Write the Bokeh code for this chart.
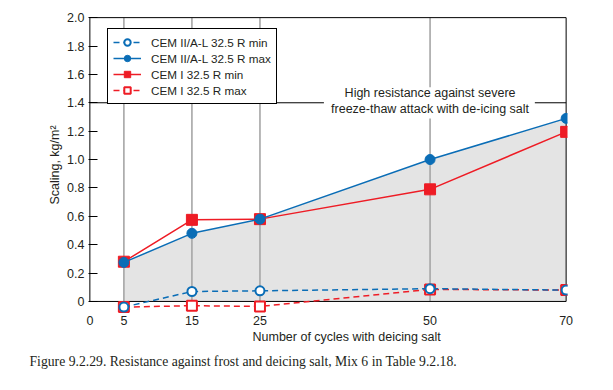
from bokeh.plotting import figure
from bokeh.models import Range1d, FixedTicker, Legend, LegendItem, Label, BoxAnnotation, Title
from bokeh.embed import file_html
from bokeh.resources import INLINE

# ---- data ----
cycles = [5, 15, 25, 50, 70]
cem2_min = [-0.04, 0.07, 0.075, 0.09, 0.08]     # CEM II/A-L 32.5 R min
cem2_max = [0.275, 0.48, 0.58, 1.0, 1.29]       # CEM II/A-L 32.5 R max
cem1_min = [0.28, 0.575, 0.58, 0.79, 1.195]     # CEM I 32.5 R min
cem1_max = [-0.04, -0.03, -0.035, 0.085, 0.08]  # CEM I 32.5 R max
x_ticks = [0, 5, 15, 25, 50, 70]
y_ticks = [0, 0.2, 0.4, 0.6, 0.8, 1.0, 1.2, 1.4, 1.6, 1.8, 2.0]
y_tick_labels = ["0", "0.2", "0.4", "0.6", "0.8", "1.0", "1.2", "1.4", "1.6", "1.8", "2.0"]
grid_cycles = [5, 15, 25, 50]
threshold = 1.4
note_lines = ["High resistance against severe", "freeze-thaw attack with de-icing salt"]
x_title = "Number of cycles with deicing salt"
y_title = "Scaling, kg/m\u00b2"
caption = "Figure 9.2.29. Resistance against frost and deicing salt, Mix 6 in Table 9.2.18."

BLUE = "#0a6db6"
RED = "#ee1c25"
TXT = "#231f20"
FONT = "Liberation Sans"

p = figure(width=597, height=380, x_range=Range1d(-0.2, 70.2), y_range=Range1d(-0.085, 2.008),
           output_backend="svg", toolbar_location=None,
           min_border_left=88, min_border_right=30, min_border_top=16, min_border_bottom=67)
p.outline_line_color = None
p.xgrid.grid_line_color = None
p.ygrid.grid_line_color = None

# shaded region under CEM II max
p.varea(x=cycles, y1=[0] * len(cycles), y2=cem2_max, fill_color="#e4e4e4")
# grey vertical lines
p.segment(x0=grid_cycles, y0=[0] * len(grid_cycles), x1=grid_cycles, y1=[2.0] * len(grid_cycles),
          line_color="#a6a6a6", line_width=1.6)
# frame & threshold line
p.segment(x0=[0, 0, 0, 70, 0], y0=[0, 2.0, 0, 0, threshold], x1=[70, 70, 0, 70, 70],
          y1=[0, 2.0, 2.0, 2.0, threshold], line_color="black", line_width=1)

# data series (red first, blue on top)
l_i_min = p.line(cycles, cem1_min, line_color=RED, line_width=1.5)
s_i_min = p.scatter(cycles, cem1_min, marker="square", size=11, fill_color=RED, line_color=RED)
l_i_max = p.line(cycles, cem1_max, line_color=RED, line_width=1.5, line_dash="6 4")
s_i_max = p.scatter(cycles, cem1_max, marker="square", size=10, fill_color="white", line_color=RED, line_width=2)
l_ii_min = p.line(cycles, cem2_min, line_color=BLUE, line_width=1.5, line_dash="6 4")
s_ii_min = p.scatter(cycles, cem2_min, marker="circle", size=9, fill_color="white", line_color=BLUE, line_width=2)
l_ii_max = p.line(cycles, cem2_max, line_color=BLUE, line_width=1.5)
s_ii_max = p.scatter(cycles, cem2_max, marker="circle", size=10, fill_color=BLUE, line_color=BLUE)

# annotation text box
p.add_layout(BoxAnnotation(left=34.4, right=65.4, bottom=1.29, top=1.51, fill_color="white",
                           fill_alpha=1, line_color=None))
for txt, yy in zip(note_lines, [1.468, 1.355]):
    p.add_layout(Label(x=50, y=yy, text=txt, text_align="center", text_baseline="middle",
                       text_font=FONT, text_font_size="12.5px", text_color=TXT))

# axes
p.xaxis.ticker = FixedTicker(ticks=x_ticks)
p.xaxis.axis_line_color = None
p.xaxis.major_tick_line_color = None
p.xaxis.major_tick_out = 0
p.xaxis.major_tick_in = 0
p.xaxis.minor_tick_line_color = None
p.xaxis.minor_tick_out = 0
p.xaxis.major_label_standoff = 2
p.xaxis.major_label_text_font = FONT
p.xaxis.major_label_text_font_size = "12.5px"
p.xaxis.major_label_text_color = TXT

p.yaxis.ticker = FixedTicker(ticks=y_ticks)
p.yaxis.major_label_overrides = {t: s for t, s in zip(y_ticks, y_tick_labels)}
p.yaxis.axis_line_color = None
p.yaxis.major_tick_in = 9
p.yaxis.major_tick_out = 0
p.yaxis.major_tick_line_color = "black"
p.yaxis.minor_tick_line_color = None
p.yaxis.major_label_standoff = 4
p.yaxis.major_label_text_font = FONT
p.yaxis.major_label_text_font_size = "12.5px"
p.yaxis.major_label_text_color = TXT
p.yaxis.axis_label = y_title
p.yaxis.axis_label_text_font = FONT
p.yaxis.axis_label_text_font_style = "normal"
p.yaxis.axis_label_text_font_size = "12.5px"
p.yaxis.axis_label_text_color = TXT
p.yaxis.axis_label_standoff = 2

p.add_layout(Title(text=x_title, align="left", offset=164, standoff=0, text_font=FONT,
                   text_font_size="12.5px", text_font_style="normal", text_color=TXT), "below")
p.add_layout(Title(text=caption, align="left", offset=-59, standoff=17, text_font="Liberation Serif",
                   text_font_size="13.7px", text_font_style="normal", text_color=TXT), "below")

legend = Legend(items=[
    LegendItem(label="CEM II/A-L 32.5 R min", renderers=[l_ii_min, s_ii_min]),
    LegendItem(label="CEM II/A-L 32.5 R max", renderers=[l_ii_max, s_ii_max]),
    LegendItem(label="CEM I 32.5 R min", renderers=[l_i_min, s_i_min]),
    LegendItem(label="CEM I 32.5 R max", renderers=[l_i_max, s_i_max]),
], location=(19, 209))
legend.border_line_color = "black"
legend.border_line_width = 1
legend.border_line_alpha = 1
legend.background_fill_alpha = 1
legend.padding = 5
legend.spacing = 0
legend.margin = 0
legend.glyph_width = 28
legend.glyph_height = 16
legend.label_height = 16
legend.label_standoff = 10
legend.label_text_font = FONT
legend.label_text_font_size = "11.7px"
legend.label_text_color = TXT
p.add_layout(legend)

open("out.html", "w").write(file_html(p, INLINE))
